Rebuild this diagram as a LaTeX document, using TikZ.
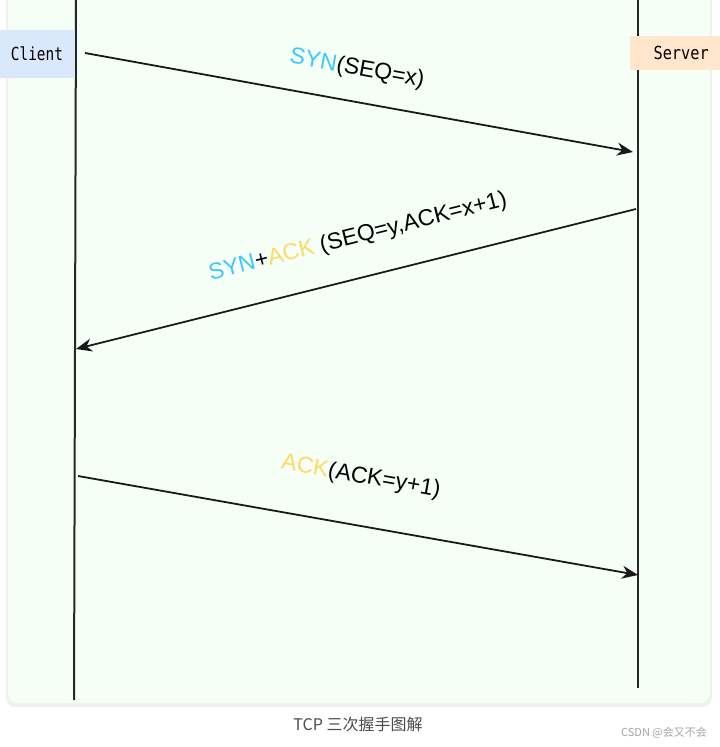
\documentclass[tikz,border=0pt]{standalone}
\usepackage{fontspec}
\setmainfont{Liberation Sans}
\newfontfamily\monof{DejaVu Sans Mono}
\newfontfamily\cjkf{Noto Sans CJK SC}
\usetikzlibrary{arrows.meta}
\definecolor{panel}{HTML}{F5FFF6}
\definecolor{synC}{HTML}{3CC8FA}
\definecolor{ackC}{HTML}{FFD966}
\definecolor{cliC}{HTML}{DAE8FC}
\definecolor{srvC}{HTML}{FFE6CC}
\tikzset{
  msg/.style={draw=black!90,line width=1.8pt,-{Stealth[length=16pt,width=13pt]}},
  life/.style={draw=black!85,line width=2pt},
  lbl/.style={font=\fontsize{23}{25}\selectfont,inner sep=0pt},
  actor/.style={font=\monof\fontsize{18}{20}\selectfont,inner sep=0pt,anchor=center}
}
\begin{document}
\begin{tikzpicture}[x=1pt,y=-1pt]
\useasboundingbox (0,0) rectangle (720,747);
\fill[white] (0,0) rectangle (720,747);
\fill[black!6,rounded corners=10pt] (6,-20) rectangle (712,707);
\fill[panel,rounded corners=10pt] (8,-20) rectangle (710,703);
\coordinate (ct) at (76,0); \coordinate (cb) at (74,700);
\coordinate (st) at (638,0); \coordinate (sb) at (638,688);
\draw[life] (ct) -- (cb);
\draw[life] (st) -- (sb);
\node[fill=cliC,minimum width=75,minimum height=48,actor] (client) at (37,54) {\scalebox{0.8}[1]{Client}};
\node[fill=srvC,minimum width=92,minimum height=34,actor,anchor=west] (server) at (630,53) {\hspace*{10pt}\scalebox{0.85}[1]{Server}};
\coordinate (a1s) at (85,53); \coordinate (a1e) at (633,152);
\coordinate (a2s) at (636,209); \coordinate (a2e) at (76,349);
\coordinate (a3s) at (78,476); \coordinate (a3e) at (638,575);
\draw[msg] (a1s) -- (a1e);
\draw[msg] (a2s) -- (a2e);
\draw[msg] (a3s) -- (a3e);
\node[lbl,rotate=-10.3] (l1) at (357,69) {\textcolor{synC}{SYN}(SEQ=x)};
\node[lbl,rotate=14.1] (l2) at (358,237) {\textcolor{synC}{SYN}+\textcolor{ackC}{ACK} (SEQ=y,ACK=x+1)};
\node[lbl,rotate=-10] (l3) at (361,477) {\textcolor{ackC}{ACK}(ACK=y+1)};
\node[font=\cjkf\fontsize{16}{18}\selectfont,text=black!70] (cap) at (358,724) {TCP 三次握手图解};
\node[font=\cjkf\fontsize{11}{13}\selectfont,text=black!35] (wm) at (664,733) {CSDN @会又不会};
\end{tikzpicture}
\end{document}
